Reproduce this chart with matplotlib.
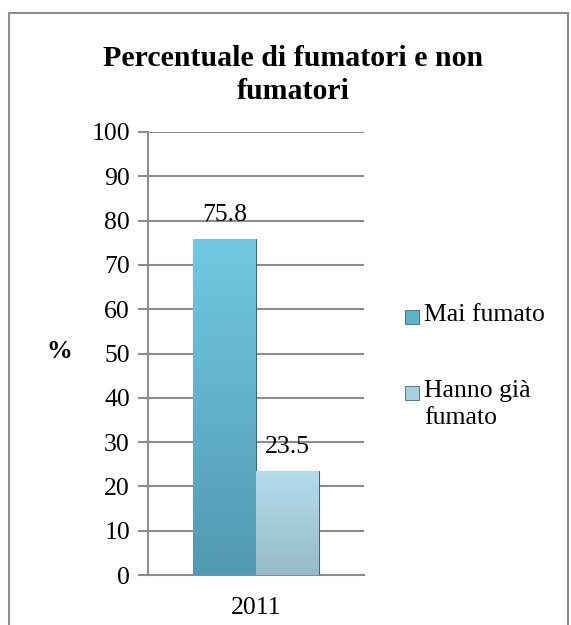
import numpy as np
import matplotlib
matplotlib.use("Agg")
import matplotlib.pyplot as plt
from matplotlib.patches import Rectangle

plt.rcParams['font.family'] = ['Liberation Serif', 'DejaVu Serif']

# data
categoria = "2011"
serie = ["Mai fumato", "Hanno già\nfumato"]
valori = [75.8, 23.5]
etichette = ["75.8", "23.5"]
yticks = list(range(0, 101, 10))

col_top = ["#72c8e2", "#b4dcec"]
col_bot = ["#5199b1", "#96bac9"]
col_mid = ["#5fb2cb", "#a6cfe0"]

fs = 18.5

fig = plt.figure(figsize=(5.71, 6.25), dpi=100)
# outer frame
fig.patches.append(Rectangle((9 / 571, -0.01), 559 / 571, 1 - 13 / 625 + 0.01,
                             transform=fig.transFigure, fill=False,
                             edgecolor="#8c8c8c", lw=1.5))

ax = fig.add_axes([148 / 571, 1 - 575 / 625, 216 / 571, 443 / 625])

w = 0.29
xs = [-w / 2, w / 2]
for i in range(2):
    b = ax.bar(xs[i], valori[i], width=w, color=col_mid[i], edgecolor="#3d6674",
               lw=0.8, zorder=3, label=serie[i])
    # vertical gradient clipped to the bar
    grad = np.linspace(0, 1, 256).reshape(-1, 1)
    cm = matplotlib.colors.LinearSegmentedColormap.from_list("g", [col_bot[i], col_top[i]])
    im = ax.imshow(grad, cmap=cm, origin="lower", aspect="auto",
                   extent=[xs[i] - w / 2, xs[i] + w / 2, 0, valori[i]], zorder=3.5)
    im.set_clip_path(b.patches[0])
    ax.text(xs[i], valori[i] + 4.0, etichette[i], ha="center", va="baseline",
            fontsize=fs, zorder=5)

ax.set_xlim(-0.5, 0.5)
ax.set_ylim(0, 100)
ax.set_yticks(yticks)
ax.set_xticks([0])
ax.set_xticklabels([categoria])
ax.tick_params(axis="x", length=0, labelsize=fs, pad=16)
ax.tick_params(axis="y", length=7, width=1.5, color="#8c8c8c", labelsize=fs, pad=6)
ax.yaxis.grid(True, color="#8c8c8c", lw=1.5, zorder=0)
for s in ["top", "right"]:
    ax.spines[s].set_visible(False)
ax.spines["left"].set_color("#8c8c8c")
ax.spines["left"].set_linewidth(1.5)
ax.spines["bottom"].set_color("#8c8c8c")
ax.spines["bottom"].set_linewidth(1.5)
ax.set_axisbelow(True)

fig.text(59 / 571, 1 - 352 / 625, "%", fontsize=fs, fontweight="bold",
         ha="center", va="center")
fig.text(293 / 571, 1 - 75 / 625, "Percentuale di fumatori e non\nfumatori",
         fontsize=21.5, fontweight="bold", ha="center", va="center", linespacing=1.28)

# legend (square marker aligned with first text line)
leg_y = [317, 393]
for i in range(2):
    fig.patches.append(Rectangle((405 / 571, 1 - (leg_y[i] + 7) / 625), 14 / 571, 14 / 625,
                                 transform=fig.transFigure, facecolor=col_mid[i],
                                 edgecolor="#3d6674", lw=0.6))
    fig.text(424 / 571, 1 - (leg_y[i] - 13) / 625, serie[i], fontsize=fs,
             ha="left", va="top", linespacing=1.3)

fig.savefig("out.png", dpi=100)
